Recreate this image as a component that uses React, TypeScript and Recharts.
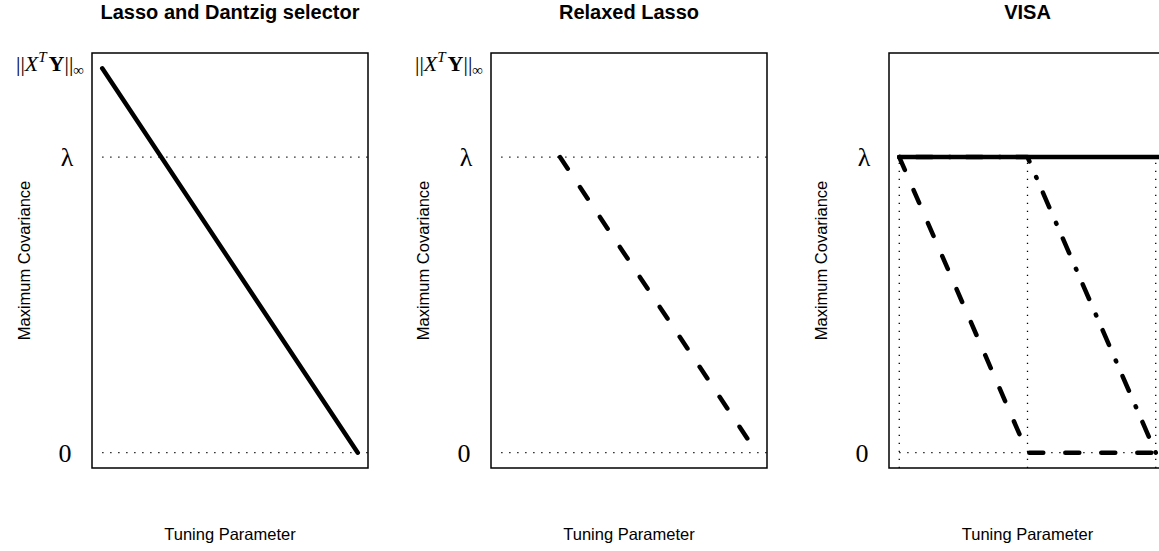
/**
 * Three-panel schematic: maximum covariance vs tuning parameter
 * for Lasso/Dantzig, Relaxed Lasso and VISA.
 */

import React from 'react';
import { LineChart, Line, XAxis, YAxis, ReferenceArea } from 'recharts';

// values (lambda = 1, ||X^T Y||_inf = 1.3)
const LAMBDA = 1;
const MAX_COV = 1.3;

const lassoX = [0, 1];
const lassoY = [1.3, 0];

const relaxedX = [0.23, 1];
const relaxedY = [1, 0];

const visaSolidX = [0, 1.04];
const visaSolidY = [1, 1];
const visaDashX = [0, 0.5, 1];
const visaDashY = [1, 0, 0];
const visaDotDashX = [0, 0.5, 1];
const visaDotDashY = [1, 1, 0];

// vertical dotted guides in the VISA panel
const visaKnots = [0, 0.5, 1];

const ticksFull = [0, LAMBDA, MAX_COV];
const ticksVisa = [0, LAMBDA];
const titles = ['Lasso and Dantzig selector', 'Relaxed Lasso', 'VISA'];

const X_DOMAIN: [number, number] = [-0.04, 1.04];
const Y_DOMAIN: [number, number] = [-0.052, 1.352];

const SANS = '"Liberation Sans", Arial, Helvetica, sans-serif';
const SERIF = '"Liberation Serif", "Times New Roman", serif';

type Pt = { t: number; v: number };

function zip(xs: number[], ys: number[]): Pt[] {
  return xs.map((t, i) => ({ t, v: ys[i] }));
}

// dotted guide lines (horizontal at 0 and lambda)
function hGuide(level: number): Pt[] {
  return [
    { t: 0, v: level },
    { t: X_DOMAIN[1], v: level },
  ];
}

function vGuide(at: number): Pt[] {
  return [
    { t: at, v: Y_DOMAIN[0] },
    { t: at, v: LAMBDA },
  ];
}

const makeTick = (yw: number) => (props: any) => {
  const { y, payload } = props;
  const v = payload.value;
  if (v === 0) {
    return (
      <text x={yw - 27} y={y + 9} textAnchor="middle" fontFamily={SERIF} fontSize={26} fill="#000">
        0
      </text>
    );
  }
  if (v === LAMBDA) {
    return (
      <text x={yw - 25} y={y + 9} textAnchor="middle" fontFamily={SERIF} fontSize={26} fill="#000">
        λ
      </text>
    );
  }
  // ||X^T Y||_inf
  return (
    <text x={yw - 8} y={y + 3} textAnchor="end" fontFamily={SERIF} fontSize={22} fill="#000">
      <tspan>||</tspan>
      <tspan fontStyle="italic">X</tspan>
      <tspan fontStyle="italic" fontSize={15} dy={-9}>T</tspan>
      <tspan fontWeight="bold" dy={9} dx={2}>Y</tspan>
      <tspan>||</tspan>
      <tspan fontSize={15} dy={4}>∞</tspan>
    </text>
  );
};

interface PanelProps {
  left: number;
  width: number;
  yw: number;
  mr: number;
  title: string;
  ticks: number[];
  children: React.ReactNode;
}

const H = 551;
const TOP = 53;
const XAXIS_H = 83;

const Panel: React.FC<PanelProps> = ({ left, width, yw, mr, title, ticks, children }) => {
  const plotW = width - yw - mr;
  return (
    <div style={{ position: 'absolute', left, top: 0, width, height: H }}>
      <div
        style={{
          position: 'absolute',
          left: yw,
          top: 2,
          width: plotW,
          textAlign: 'center',
          fontFamily: SANS,
          fontWeight: 'bold',
          fontSize: 20,
          lineHeight: '20px',
          whiteSpace: 'nowrap',
        }}
      >
        {title}
      </div>
      <LineChart width={width} height={H} margin={{ top: TOP, right: mr, bottom: 0, left: 0 }}>
        <XAxis
          dataKey="t"
          type="number"
          domain={X_DOMAIN}
          allowDataOverflow
          tick={false}
          tickLine={false}
          axisLine={false}
          height={XAXIS_H}
          label={{
            content: (p: any) => {
              const vb = p.viewBox || { x: yw, y: H - XAXIS_H, width: plotW };
              return (
                <text
                  x={vb.x + vb.width / 2}
                  y={H - XAXIS_H + 72}
                  textAnchor="middle"
                  fontFamily={SANS}
                  fontSize={16.5}
                  fill="#000"
                >
                  Tuning Parameter
                </text>
              );
            },
          }}
        />
        <YAxis
          type="number"
          domain={Y_DOMAIN}
          allowDataOverflow
          ticks={ticks}
          width={yw}
          tick={makeTick(yw)}
          tickLine={false}
          axisLine={false}
          label={{
            content: () => {
              const cx = yw - 62;
              const cy = TOP + (H - XAXIS_H - TOP) / 2;
              return (
                <text
                  x={cx}
                  y={cy}
                  transform={`rotate(-90, ${cx}, ${cy})`}
                  textAnchor="middle"
                  fontFamily={SANS}
                  fontSize={16.5}
                  fill="#000"
                >
                  Maximum Covariance
                </text>
              );
            },
          }}
        />
        <ReferenceArea
          x1={X_DOMAIN[0]}
          x2={X_DOMAIN[1]}
          y1={Y_DOMAIN[0]}
          y2={Y_DOMAIN[1]}
          fill="none"
          stroke="#000"
          strokeWidth={1.5}
          ifOverflow="visible"
        />
        {children}
      </LineChart>
    </div>
  );
};

const dotted = {
  type: 'linear' as const,
  dataKey: 'v',
  stroke: '#000',
  strokeWidth: 1.3,
  strokeDasharray: '1.3 6.7',
  dot: false,
  activeDot: false,
  isAnimationActive: false,
};

const thick = {
  type: 'linear' as const,
  dataKey: 'v',
  stroke: '#000',
  strokeWidth: 4.5,
  strokeLinecap: 'round' as const,
  strokeLinejoin: 'round' as const,
  dot: false,
  activeDot: false,
  isAnimationActive: false,
};

const DASHED = '14 22';
const DOTDASH = '1 16 16 17';

export default function App() {
  return (
    <div
      style={{
        position: 'fixed',
        left: 0,
        top: 0,
        width: 1159,
        height: H,
        overflow: 'hidden',
        background: '#fff',
      }}
    >
      <Panel left={0} width={386} yw={92} mr={18} title={titles[0]} ticks={ticksFull}>
        <Line {...dotted} data={hGuide(LAMBDA)} />
        <Line {...dotted} data={hGuide(0)} />
        <Line {...thick} data={zip(lassoX, lassoY)} />
      </Panel>
      <Panel left={386} width={398} yw={105} mr={17} title={titles[1]} ticks={ticksFull}>
        <Line {...dotted} data={hGuide(LAMBDA)} />
        <Line {...dotted} data={hGuide(0)} />
        <Line {...thick} data={zip(relaxedX, relaxedY)} strokeDasharray={DASHED} />
      </Panel>
      <Panel left={772} width={400} yw={117} mr={6} title={titles[2]} ticks={ticksVisa}>
        <Line {...dotted} data={hGuide(LAMBDA)} />
        <Line {...dotted} data={hGuide(0)} />
        {visaKnots.map((k) => (
          <Line key={k} {...dotted} data={vGuide(k)} />
        ))}
        <Line {...thick} data={zip(visaSolidX, visaSolidY)} />
        <Line {...thick} data={zip(visaDashX, visaDashY)} strokeDasharray={DASHED} />
        <Line {...thick} data={zip(visaDotDashX, visaDotDashY)} strokeDasharray={DOTDASH} />
      </Panel>
    </div>
  );
}
